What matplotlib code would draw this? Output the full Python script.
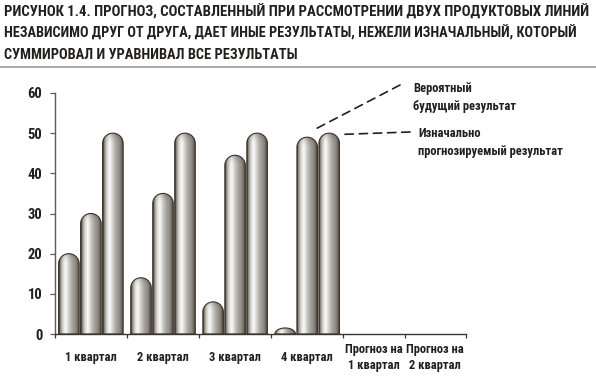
import numpy as np
import matplotlib
matplotlib.use('Agg')
import matplotlib.pyplot as plt
from matplotlib.path import Path
from matplotlib.patches import PathPatch
from matplotlib.lines import Line2D
from matplotlib.colors import to_rgb
from matplotlib import font_manager as fm

# ---------------- data ----------------
categories = ['1 квартал', '2 квартал', '3 квартал', '4 квартал',
              'Прогноз на\n1 квартал', 'Прогноз на\n2 квартал']
series_1 = [20, 14, 8, 1.5]
series_2 = [30, 35, 44.5, 49]
series_3 = [50, 50, 50, 50]
y_ticks = [0, 10, 20, 30, 40, 50, 60]
title_lines = ['РИСУНОК 1.4. ПРОГНОЗ, СОСТАВЛЕННЫЙ ПРИ РАССМОТРЕНИИ ДВУХ ПРОДУКТОВЫХ ЛИНИЙ',
               'НЕЗАВИСИМО ДРУГ ОТ ДРУГА, ДАЕТ ИНЫЕ РЕЗУЛЬТАТЫ, НЕЖЕЛИ ИЗНАЧАЛЬНЫЙ, КОТОРЫЙ',
               'СУММИРОВАЛ И УРАВНИВАЛ ВСЕ РЕЗУЛЬТАТЫ']
note_probable = ['Вероятный', 'будущий результат']
note_initial = ['Изначально', 'прогнозируемый результат']

# ---------------- style ----------------
W, H = 596, 376
def pick_font():
    for f in ['Liberation Sans Narrow', 'Roboto Condensed', 'DejaVu Sans']:
        try:
            fm.findfont(fm.FontProperties(family=f), fallback_to_default=False)
            return f
        except Exception:
            pass
    return 'DejaVu Sans'
FONT = pick_font()
TXT = '#231f1c'
plt.rcParams['font.family'] = [FONT, 'DejaVu Sans']
plt.rcParams['font.weight'] = 'bold'

group_widths = [1, 1, 1, 1, 0.85, 0.85]
bar_off, bar_w, bar_gap = 0.05, 0.285, 0.02

fig = plt.figure(figsize=(W / 100, H / 100), dpi=100)
ax = fig.add_axes([55 / W, (H - 334) / H, 411 / W, 241 / H])
xmax = sum(group_widths)

px_per_x = 411 / xmax
px_per_y = 241 / 60
cap_r = (bar_w * px_per_x / 2) / px_per_y

stops = [(0.0, '#342d25'), (0.06, '#8a857d'), (0.18, '#d6d4d0'), (0.32, '#fbfbfa'),
         (0.46, '#d3d1cc'), (0.62, '#aaa6a0'), (0.80, '#8e8982'), (0.92, '#665f56'),
         (1.0, '#2b251d')]
xs = np.linspace(0, 1, 120)
pos = [s[0] for s in stops]
cols = np.array([to_rgb(s[1]) for s in stops])
grad = np.stack([np.interp(xs, pos, cols[:, k]) for k in range(3)], axis=-1)

def draw_bar(x0, w, v):
    h = min(cap_r, v)
    base = v - h
    t = np.linspace(0, np.pi, 60)
    arc = np.column_stack([x0 + w / 2 + (w / 2) * np.cos(t), base + h * np.sin(t)])
    verts = np.vstack([[x0, 0], [x0 + w, 0], arc, [x0, 0]])
    codes = [Path.MOVETO] + [Path.LINETO] * (len(verts) - 2) + [Path.CLOSEPOLY]
    patch = PathPatch(Path(verts, codes), facecolor='none', edgecolor='#3a3229',
                      lw=0.8, zorder=3)
    ax.add_patch(patch)
    M = 200
    ys = np.linspace(0, v, M)
    fac = np.ones(M)
    if h > 0:
        c = np.clip((ys - base) / h, 0, 1)
        fac = 1 - 0.22 * c ** 2
    img = grad[None, :, :] * fac[:, None, None]
    im = ax.imshow(img, extent=[x0, x0 + w, 0, v], origin='lower', aspect='auto',
                   interpolation='bilinear', zorder=2)
    im.set_clip_path(patch)

starts = np.concatenate([[0], np.cumsum(group_widths)])
bar_geom = {}
for gi, vals in enumerate(zip(series_1, series_2, series_3)):
    for bi, v in enumerate(vals):
        x0 = starts[gi] + bar_off + bi * (bar_w + bar_gap)
        draw_bar(x0, bar_w, v)
        bar_geom[(gi, bi)] = (x0, x0 + bar_w, v)

ax.set_xlim(0, xmax)
ax.set_ylim(0, 60)

# axes styling
for s in ['top', 'right']:
    ax.spines[s].set_visible(False)
ax.spines['left'].set_color('#5e5a56')
ax.spines['bottom'].set_color('#3a3530')
ax.spines['left'].set_linewidth(1.0)
ax.spines['bottom'].set_linewidth(1.0)
ax.set_yticks(y_ticks)
ax.set_yticklabels([str(t) for t in y_ticks])
ax.tick_params(axis='y', length=3.6, width=0.9, color='#5e5a56', pad=5.5,
               labelsize=10.5, labelcolor=TXT)
ax.set_xticks(starts)
ax.set_xticklabels([])
ax.tick_params(axis='x', length=3, width=0.9, color='#3a3530')
centers = (starts[:-1] + starts[1:]) / 2
for c, lab in zip(centers, categories):
    x_disp = ax.transData.transform((c, 0))[0]
    fig.text(x_disp / W, 1 - 357 / H, lab, ha='center', va='center', fontsize=9,
             color=TXT, fontweight='bold', linespacing=1.3, multialignment='center')

# title: fit each line to the width it has in the reference
title_right = [590, 580, 298]
renderer = fig.canvas.get_renderer()
for i, (line, right) in enumerate(zip(title_lines, title_right)):
    t = fig.text(4 / W, 1 - (17 + 21 * i) / H, line, ha='left', va='baseline',
                 fontsize=10.5, color=TXT, fontweight='bold')
    wpx = t.get_window_extent(renderer).width
    t.set_fontsize(10.5 * (right - 4) / wpx)
fig.add_artist(Line2D([0, 1], [1 - 67 / H, 1 - 67 / H], transform=fig.transFigure,
                      color='#a9a9a2', lw=1.4))

# annotations
x0b, x1b, vb = bar_geom[(3, 1)]
ax.annotate('', xy=((x0b + x1b) / 2 + 8 / px_per_x, vb + 8 / px_per_y),
            xytext=(400, H - 85), textcoords='figure pixels',
            arrowprops=dict(arrowstyle='-', lw=1.2, ls=(0, (5, 3.5)), color=TXT,
                            shrinkA=0, shrinkB=0))
x0c, x1c, vc = bar_geom[(3, 2)]
ax.annotate('', xy=(x1c + 3 / px_per_x, vc - 0.3),
            xytext=(410, H - 132), textcoords='figure pixels',
            arrowprops=dict(arrowstyle='-', lw=1.2, ls=(0, (5, 3.5)), color=TXT,
                            shrinkA=0, shrinkB=0))
for (xp, yp), s in zip([(413, 92), (413, 110)], note_probable):
    fig.text(xp / W, 1 - yp / H, s, ha='left', va='baseline', fontsize=9,
             color=TXT, fontweight='bold')
for (xp, yp), s in zip([(418, 137), (418, 155)], note_initial):
    fig.text(xp / W, 1 - yp / H, s, ha='left', va='baseline', fontsize=9,
             color=TXT, fontweight='bold')

fig.savefig('out.png', dpi=100)
